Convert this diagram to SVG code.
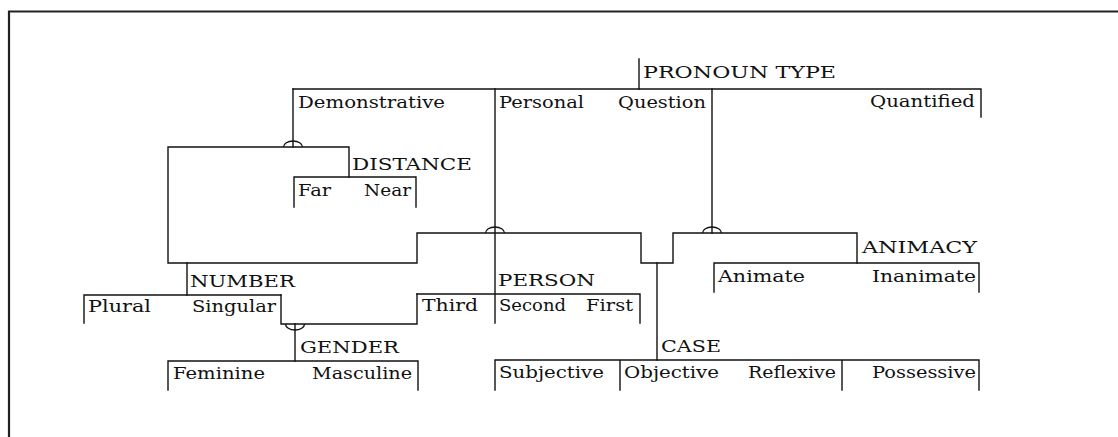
<svg xmlns="http://www.w3.org/2000/svg" width="1118" height="437" viewBox="0 0 1118 437">
<style>
  .ln{fill:none;stroke:#111;stroke-width:1.4;stroke-linecap:square}
  .hump{fill:none;stroke:#111;stroke-width:1.4}
  .frame{fill:none;stroke:#222;stroke-width:2.2}
  text{font-family:"DejaVu Serif","Liberation Serif",serif;font-size:17px;fill:#111}
</style>
<rect width="1118" height="437" fill="#fff"/>
<path class="frame" d="M9,437 V11.5 H1118"/>

<g id="connectors">
  <path class="ln" d="M639,59 V89"/>
  <path class="ln" d="M293,89 V147"/>
  <path class="hump" d="M283.5,147 A9.5,6 0 0 1 302.5,147"/>
  <path class="ln" d="M495,89 V323"/>
  <path class="hump" d="M485.5,233 A9.5,6 0 0 1 504.5,233"/>
  <path class="ln" d="M712,89 V233"/>
  <path class="hump" d="M702.5,233 A9.5,6 0 0 1 721.5,233"/>
  <path class="ln" d="M349,177 V147 H168 V263 H417 V233 H641 V263 H673 V233 H857 V263"/>
  <path class="ln" d="M187,263 V295"/>
  <path class="ln" d="M281,295 V324 H417 V294"/>
  <path class="ln" d="M295,324 V361"/>
  <path class="hump" d="M285.5,324 A9.5,6 0 0 0 304.5,324"/>
  <path class="ln" d="M657,263 V360"/>
</g>

<g id="pronoun-type">
  <path class="ln" d="M293,89 H981 V117"/>
  <text x="643" y="78" textLength="193" lengthAdjust="spacingAndGlyphs">PRONOUN TYPE</text>
  <text x="298" y="108" textLength="147" lengthAdjust="spacingAndGlyphs">Demonstrative</text>
  <text x="499" y="108" textLength="85" lengthAdjust="spacingAndGlyphs">Personal</text>
  <text x="618" y="108" textLength="88" lengthAdjust="spacingAndGlyphs">Question</text>
  <text x="870" y="107" textLength="105" lengthAdjust="spacingAndGlyphs">Quantified</text>
</g>

<g id="distance">
  <path class="ln" d="M294,207 V177 H416 V207"/>
  <text x="352" y="170" textLength="120" lengthAdjust="spacingAndGlyphs">DISTANCE</text>
  <text x="298" y="196" textLength="33" lengthAdjust="spacingAndGlyphs">Far</text>
  <text x="364" y="196" textLength="47" lengthAdjust="spacingAndGlyphs">Near</text>
</g>

<g id="animacy">
  <path class="ln" d="M714,292 V263 H979 V292"/>
  <text x="862" y="253" textLength="115" lengthAdjust="spacingAndGlyphs">ANIMACY</text>
  <text x="718" y="282" textLength="87" lengthAdjust="spacingAndGlyphs">Animate</text>
  <text x="872" y="282" textLength="104" lengthAdjust="spacingAndGlyphs">Inanimate</text>
</g>

<g id="number">
  <path class="ln" d="M84,323 V295 H281"/>
  <text x="190" y="287" textLength="105" lengthAdjust="spacingAndGlyphs">NUMBER</text>
  <text x="88" y="312" textLength="63" lengthAdjust="spacingAndGlyphs">Plural</text>
  <text x="192" y="312" textLength="84" lengthAdjust="spacingAndGlyphs">Singular</text>
</g>

<g id="person">
  <path class="ln" d="M417,294 H640 V323"/>
  <text x="498" y="286" textLength="97" lengthAdjust="spacingAndGlyphs">PERSON</text>
  <text x="422" y="311" textLength="56" lengthAdjust="spacingAndGlyphs">Third</text>
  <text x="499" y="311" textLength="67" lengthAdjust="spacingAndGlyphs">Second</text>
  <text x="586" y="311" textLength="47" lengthAdjust="spacingAndGlyphs">First</text>
</g>

<g id="gender">
  <path class="ln" d="M168,390 V361 H418 V390"/>
  <text x="300" y="353" textLength="99" lengthAdjust="spacingAndGlyphs">GENDER</text>
  <text x="173" y="379" textLength="92" lengthAdjust="spacingAndGlyphs">Feminine</text>
  <text x="312" y="379" textLength="100" lengthAdjust="spacingAndGlyphs">Masculine</text>
</g>

<g id="case">
  <path class="ln" d="M495,390 V360 H979 V390 M620,360 V390 M842,360 V390"/>
  <text x="661" y="352" textLength="60" lengthAdjust="spacingAndGlyphs">CASE</text>
  <text x="499" y="378" textLength="105" lengthAdjust="spacingAndGlyphs">Subjective</text>
  <text x="624" y="378" textLength="95" lengthAdjust="spacingAndGlyphs">Objective</text>
  <text x="748" y="378" textLength="88" lengthAdjust="spacingAndGlyphs">Reflexive</text>
  <text x="872" y="378" textLength="104" lengthAdjust="spacingAndGlyphs">Possessive</text>
</g>
</svg>
